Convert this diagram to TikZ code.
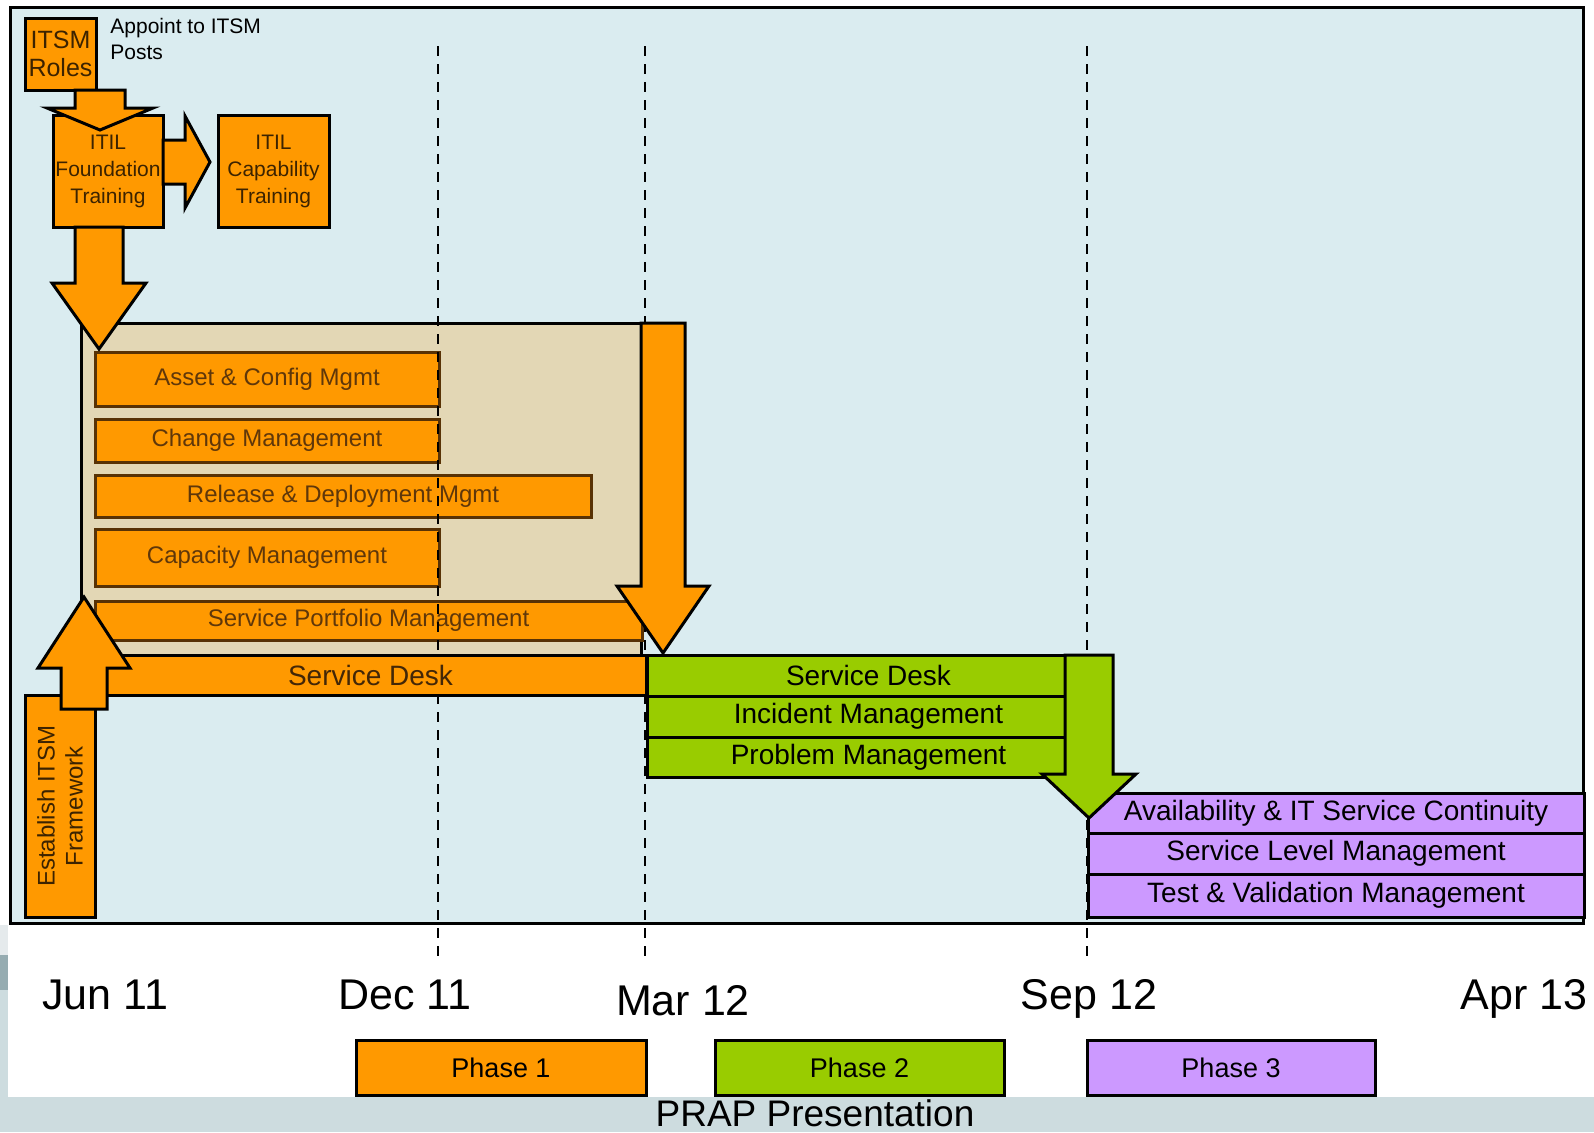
\documentclass[tikz,border=0pt]{standalone}
\usepackage{fontspec}
\setmainfont{Liberation Sans}
\usetikzlibrary{calc,fit}

\definecolor{phaseorange}{RGB}{255,153,0}
\definecolor{phasegreen}{RGB}{153,204,0}
\definecolor{phasepurple}{RGB}{204,153,255}
\definecolor{groupbeige}{RGB}{227,215,181}
\definecolor{framefill}{RGB}{218,236,240}
\definecolor{itemline}{RGB}{88,50,5}
\definecolor{itemtext}{RGB}{95,55,10}
\definecolor{toptext}{RGB}{60,35,0}
\definecolor{slideband}{RGB}{205,220,223}
\definecolor{slidetab}{RGB}{150,172,177}

\tikzset{
	box/.style={draw=black, line width=1.5pt, inner sep=0pt, outer sep=0pt, align=center},
	size/.style 2 args={minimum width=#1*0.5pt, minimum height=#2*0.5pt},
	topbox/.style={box, fill=phaseorange, text=toptext, font=\fontsize{10.5}{13.5}\selectfont},
	itembox/.style={box, fill=phaseorange, draw=itemline, text=itemtext, font=\fontsize{12}{14}\selectfont},
	deskbox/.style={box, fill=phaseorange, text=itemtext!70!black, font=\fontsize{14}{16}\selectfont},
	greenbox/.style={box, fill=phasegreen, font=\fontsize{14}{16}\selectfont},
	purplebox/.style={box, fill=phasepurple, font=\fontsize{14}{16}\selectfont},
	legendbox/.style={box, font=\fontsize{13.5}{15}\selectfont},
	datelabel/.style={anchor=base, inner sep=0pt, font=\fontsize{21.5}{24}\selectfont},
	marker/.style={line width=1pt, dash pattern=on 5pt off 4pt},
	orangearrow/.style={draw=black, line width=1.5pt, fill=phaseorange},
	greenarrow/.style={draw=black, line width=1.5pt, fill=phasegreen},
	% block arrows: shaft half width / head half width / head length
	down block/.style n args={3}{to path={
		($(\tikztostart)+(-#1,0)$) -- ($(\tikztotarget)+(-#1,-#3)$) -- ($(\tikztotarget)+(-#2,-#3)$)
		-- (\tikztotarget) -- ($(\tikztotarget)+(#2,-#3)$) -- ($(\tikztotarget)+(#1,-#3)$)
		-- ($(\tikztostart)+(#1,0)$) -- cycle}},
	up block/.style n args={3}{to path={
		($(\tikztostart)+(-#1,0)$) -- ($(\tikztotarget)+(-#1,#3)$) -- ($(\tikztotarget)+(-#2,#3)$)
		-- (\tikztotarget) -- ($(\tikztotarget)+(#2,#3)$) -- ($(\tikztotarget)+(#1,#3)$)
		-- ($(\tikztostart)+(#1,0)$) -- cycle}},
	right block/.style n args={3}{to path={
		($(\tikztostart)+(0,-#1)$) -- ($(\tikztotarget)+(-#3,-#1)$) -- ($(\tikztotarget)+(-#3,-#2)$)
		-- (\tikztotarget) -- ($(\tikztotarget)+(-#3,#2)$) -- ($(\tikztotarget)+(-#3,#1)$)
		-- ($(\tikztostart)+(0,#1)$) -- cycle}},
}

\begin{document}
\begin{tikzpicture}[x=0.5pt, y=-0.5pt]

	\useasboundingbox (0,0) rectangle (1594,1132);
	\fill[white] (0,0) rectangle (1594,1132);

	% slide footer
	\fill[slideband] (0,1097) rectangle (1594,1132);
	\fill[slidetab!25!white] (0,925) rectangle (8,955);
	\fill[slidetab] (0,955) rectangle (8,990);
	\fill[slideband] (0,990) rectangle (8,1097);
	\node (footer) [anchor=base, inner sep=0pt, font=\fontsize{18.5}{20}\selectfont] at (815,1126) {PRAP Presentation};

	\node (frame) [box, fill=framefill, fit={(10,7) (1583,923)}] {};

	% phase 1
	\node (group) [box, fill=groupbeige, fit={(81,323) (641,655)}] {};
	\node (asset) [itembox, size={344}{54}] at (267,379) {Asset \& Config Mgmt};
	\node (change) [itembox, size={344}{43}] at (267,440.5) {Change Management};
	\node (release) [itembox, size={496}{42}] at (343,496) {Release \& Deployment Mgmt};
	\node (capacity) [itembox, size={344}{57}] at (267,557.5) {Capacity Management};
	\node (portfolio) [itembox, size={547}{39}] at (368.5,620.5) {Service Portfolio Management};

	\draw[marker] (438,46) -- (438,957);
	\draw[marker] (645,46) -- (645,957);
	\draw[marker] (1087,46) -- (1087,957);

	\node (desk) [deskbox, size={551}{40}] at (370.5,675) {Service Desk};

	% phase 2
	\node (desk2) [greenbox, size={443}{41}] at (868.5,675.5) {Service Desk};
	\node (incident) [greenbox, size={443}{41}] at (868.5,716.5) {Incident Management};
	\node (problem) [greenbox, size={443}{40}] at (868.5,757) {Problem Management};

	% phase 3
	\node (avail) [purplebox, size={496}{40}] at (1336,813) {Availability \& IT Service Continuity};
	\node (level) [purplebox, size={496}{41}] at (1336,853.5) {Service Level Management};
	\node (test) [purplebox, size={496}{43}] at (1336,895.5) {Test \& Validation Management};

	\node (framework) [box, fill=phaseorange, fit={(25,695) (95,917)}] {};
	\node (frameworktext) [rotate=90, align=center, text=toptext, font=\fontsize{12}{14}\selectfont] at (framework.center) {Establish ITSM\\Framework};

	% training
	\node (roles) [topbox, font=\fontsize{12.5}{14}\selectfont, size={71}{72}] at (60.5,54) {ITSM\\Roles};
	\node (appoint) [anchor=north west, inner sep=0pt, align=left, font=\fontsize{10.5}{13}\selectfont] at (110,18) {Appoint to ITSM\\Posts};
	\node (found) [topbox, size={110}{112}] at (108,171) {ITIL\\Foundation\\Training};
	\node (capability) [topbox, size={111}{112}] at (273.5,171) {ITIL\\Capability\\Training};

	\coordinate (tipa) at (100,130);
	\coordinate (tipb) at (210,162);
	\coordinate (tipc) at (99,349);
	\coordinate (tipd) at (84,597);
	\coordinate (tipe) at (663,653);
	\coordinate (tipf) at (1089,818);

	\path
	(roles.south -| tipa) edge[orangearrow, down block={25}{53}{22}] (tipa)
	(found.east |- tipb) edge[orangearrow, right block={22}{46}{25}] (tipb)
	(found.south -| tipc) edge[orangearrow, down block={24}{47}{66}] (tipc)
	($(framework.north -| tipd)+(0,14)$) edge[orangearrow, up block={23}{46}{71}] (tipd)
	(group.north -| tipe) edge[orangearrow, down block={22}{46}{67}] (tipe);

	\path
	(desk2.north -| tipf) edge[greenarrow, down block={24}{47}{44}] (tipf);

	% time line
	\node (jun) [datelabel] at (105,1009) {Jun 11};
	\node (dec) [datelabel] at (405,1009) {Dec 11};
	\node (mar) [datelabel] at (683,1015) {Mar 12};
	\node (sep) [datelabel] at (1089,1009) {Sep 12};
	\node (apr) [datelabel] at (1524,1009) {Apr 13};

	\node (legend1) [legendbox, fill=phaseorange, size={290}{55}] at (501,1067.5) {Phase 1};
	\node (legend2) [legendbox, fill=phasegreen, size={289}{55}] at (859.5,1067.5) {Phase 2};
	\node (legend3) [legendbox, fill=phasepurple, size={288}{55}] at (1231,1067.5) {Phase 3};

\end{tikzpicture}
\end{document}
